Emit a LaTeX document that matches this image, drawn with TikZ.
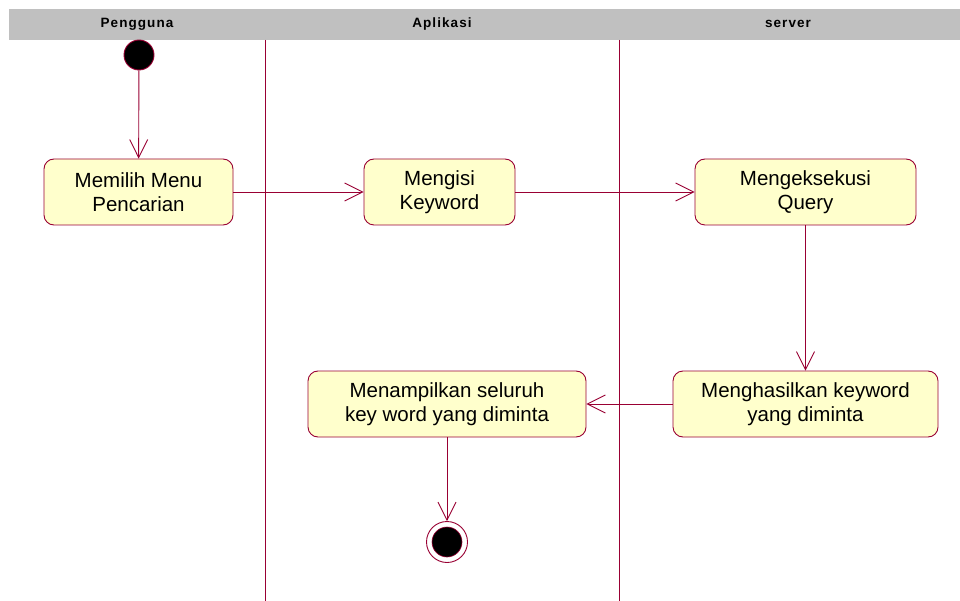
\documentclass[tikz,border=0pt]{standalone}
\usepackage{fontspec}
\setmainfont{Liberation Sans}
\newfontfamily\headfont[LetterSpace=8]{Liberation Sans}
\usetikzlibrary{arrows.meta}
\definecolor{umlline}{RGB}{153,0,51}
\definecolor{umlfill}{RGB}{255,255,204}
\definecolor{lanehead}{RGB}{192,192,192}
\begin{document}
\begin{tikzpicture}[x=1pt,y=-1pt,
  actbox/.style={draw=umlline, fill=umlfill, line width=0.9pt, rounded corners=10pt,
    minimum height=66pt, align=center, inner sep=0pt,
    font=\fontsize{20.5}{24.5}\selectfont},
  flow/.style={draw=umlline, line width=0.9pt, -{Straight Barb[length=18pt,width=18pt,line width=0.9pt]}},
  lanetitle/.style={font=\headfont\bfseries\fontsize{13.5}{16}\selectfont, inner sep=0pt},
  lanesep/.style={draw=umlline, line width=0.9pt}]
\useasboundingbox (0,0) rectangle (960,601);
\fill[white] (0,0) rectangle (960,601);

% swimlane header and separators
\fill[lanehead] (9,9) rectangle (960,40);
\node[lanetitle] (h1) at (137,24) {Pengguna};
\node[lanetitle] (h2) at (442,24) {Aplikasi};
\node[lanetitle] (h3) at (788,24) {server};
\draw[lanesep] (265,40) -- (265,601);
\draw[lanesep] (619,40) -- (619,601);

% initial and final states
\node[circle, fill=black, draw=umlline, line width=0.9pt, minimum size=30pt, inner sep=0pt] (start) at (139,55) {};
\node[circle, draw=umlline, fill=white, line width=0.9pt, minimum size=41pt, inner sep=0pt] (stop) at (447,542) {};
\node[circle, fill=black, draw=umlline, line width=0.6pt, minimum size=30pt, inner sep=0pt] (stopdot) at (447,542) {};

% activities
\node[actbox, minimum width=189pt] (b1) at (138.5,192) {Memilih Menu\\Pencarian};
\node[actbox, minimum width=151pt] (b2) at (439.5,192) {Mengisi\\Keyword};
\node[actbox, minimum width=221pt] (b3) at (805.5,192) {Mengeksekusi\\Query};
\node[actbox, minimum width=265pt] (b4) at (805.5,404) {Menghasilkan keyword\\yang diminta};
\node[actbox, minimum width=278pt] (b5) at (447,404) {Menampilkan seluruh\\key word yang diminta};

% transitions
\draw[flow] (start) -- (b1);
\draw[flow] (b1) -- (b2);
\draw[flow] (b2) -- (b3);
\draw[flow] (b3) -- (b4);
\draw[flow] (b4) -- (b5);
\draw[flow] (b5) -- (stop);
\end{tikzpicture}
\end{document}
